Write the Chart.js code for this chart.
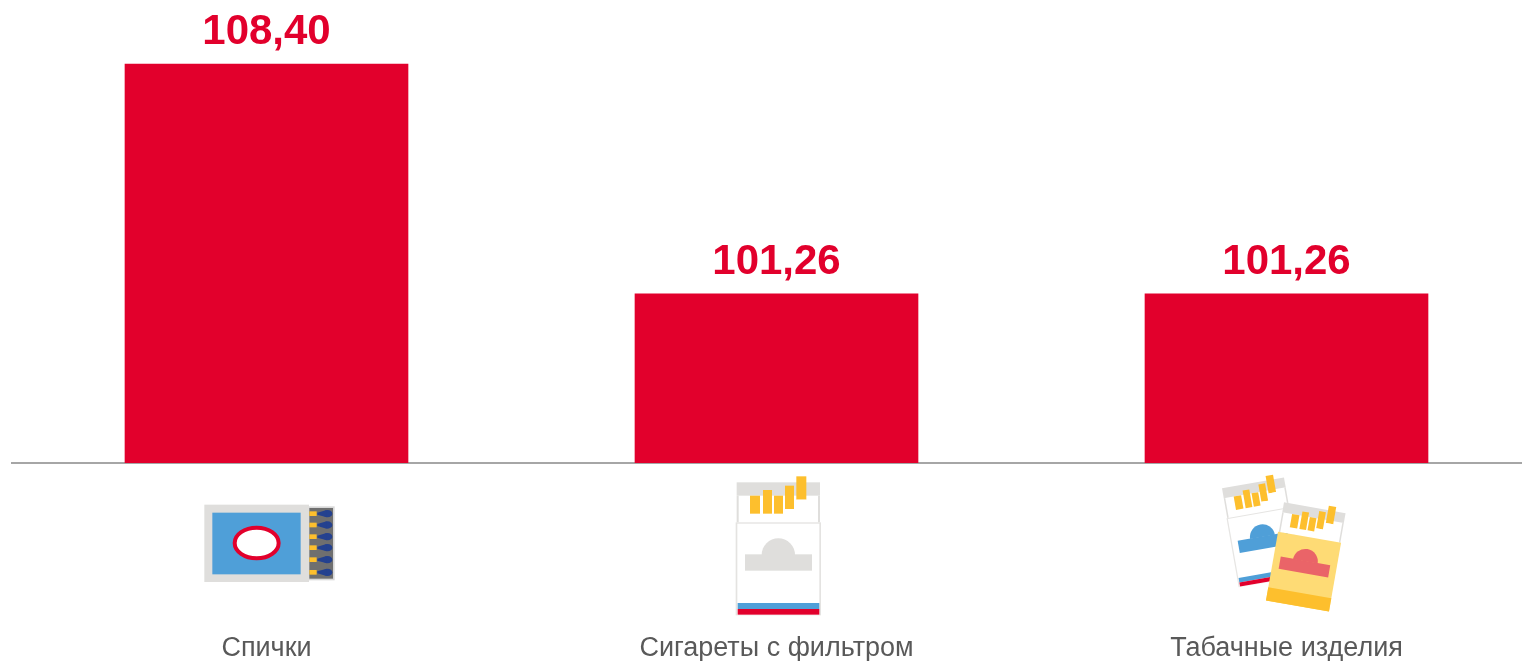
<!DOCTYPE html>
<html lang="ru">
<head>
<meta charset="utf-8">
<title>Индексы цен</title>
<script src="https://cdn.jsdelivr.net/npm/chart.js@4/dist/chart.umd.min.js"></script>
<style>
  html, body { margin: 0; padding: 0; background: #fff; overflow: hidden; }
  #chart { display: block; }
</style>
</head>
<body>
<!-- the third band runs past the window edge in the reference, so the canvas is wider than the page -->
<canvas id="chart" width="1542" height="661"></canvas>
<script>
// Data
// ----------------------------------------------
const categories = ['Спички', 'Сигареты с фильтром', 'Табачные изделия'];
const values = [108.40, 101.26, 101.26];
const iconKinds = ['matches', 'pack', 'twoPacks'];

const redColor = '#e2002c';
const grayColor = '#dfdedc';
const yellowColor = '#fdbf2d';
const blueColor = '#4f9fd8';


// Icons, drawn at 3x so the numbers stay whole
// ----------------------------------------------
let rect = (ctx, color, x1, y1, x2, y2) => {
    ctx.fillStyle = color;
    ctx.fillRect(x1, y1, x2 - x1, y2 - y1);
}

let drawMatches = (ctx) => {
    rect(ctx, grayColor, 43, 44, 357, 276);
    rect(ctx, blueColor, 67, 68, 332, 253);
    ctx.beginPath();
    ctx.ellipse(200, 159, 66, 46, 0, 0, Math.PI * 2);
    ctx.fillStyle = '#fff';
    ctx.fill();
    ctx.lineWidth = 12;
    ctx.strokeStyle = redColor;
    ctx.stroke();

    rect(ctx, '#d8d8d8', 357, 49, 434, 271);
    rect(ctx, '#6f6f6f', 358, 54, 429, 266);
    [71, 105, 140, 173, 209, 247].forEach(y => {
        rect(ctx, yellowColor, 358, y - 7, 380, y + 7);
        // head: round end with a short taper towards the stick
        ctx.fillStyle = '#24418f';
        ctx.beginPath();
        ctx.ellipse(413, y, 14, 11, 0, 0, Math.PI * 2);
        ctx.fill();
        ctx.beginPath();
        ctx.moveTo(382, y - 3);
        ctx.lineTo(410, y - 11);
        ctx.lineTo(410, y + 11);
        ctx.lineTo(382, y + 3);
        ctx.closePath();
        ctx.fill();
    });
}

// Pack in its own coordinates: x 47-303, y 34-450
let drawPack = (ctx, style) => {
    rect(ctx, '#fff', 50, 52, 300, 172);
    rect(ctx, grayColor, 50, 52, 300, 92);
    rect(ctx, grayColor, 50, 92, 56, 172);
    rect(ctx, grayColor, 294, 92, 300, 172);

    rect(ctx, yellowColor, 90, 92, 120, 146);
    rect(ctx, yellowColor, 129, 75, 156, 146);
    rect(ctx, yellowColor, 162, 92, 189, 146);
    rect(ctx, yellowColor, 195, 62, 222, 132);
    rect(ctx, '#fff', 195, 132, 222, 140);
    rect(ctx, yellowColor, 229, 34, 259, 104);
    rect(ctx, '#fff', 229, 104, 259, 146);

    rect(ctx, style.outline, 47, 172, 303, 451);
    rect(ctx, style.body, 52, 176, 298, 450);
    if (style.lowBand) {
        rect(ctx, style.lowBand, 47, 397, 303, 451);
    } else {
        rect(ctx, blueColor, 53, 414, 298, 432);
        rect(ctx, redColor, 53, 432, 298, 449);
    }

    rect(ctx, style.emblem, 75, 268, 276, 317);
    ctx.beginPath();
    ctx.arc(175, 270, 50, Math.PI, 0);
    ctx.fillStyle = style.emblem;
    ctx.fill();
}

let drawTwoPacks = (ctx) => {
    ctx.save();
    ctx.translate(36, 70);
    ctx.rotate(-10 * Math.PI / 180);
    ctx.scale(.755, .755);
    ctx.translate(-50, -52);
    drawPack(ctx, { outline: '#e6e5e3', body: '#fff', emblem: blueColor });
    ctx.restore();

    ctx.save();
    ctx.translate(222, 112);
    ctx.rotate(10 * Math.PI / 180);
    ctx.scale(.75, .75);
    ctx.translate(-50, -52);
    drawPack(ctx, { outline: '#fedb75', body: '#fedb75', emblem: '#ea6468', lowBand: yellowColor });
    ctx.restore();
}

// Offset of each icon from its tick and from the axis line
const iconStyles = {
    matches: { dx: -76.5, dy: 27, draw: drawMatches },
    pack: { dx: -56.5, dy: 2, draw: (ctx) => drawPack(ctx, { outline: '#e4e3e1', body: '#fff', emblem: grayColor }) },
    twoPacks: { dx: -76.5, dy: 2, draw: drawTwoPacks }
};

const iconPlugin = {
    id: 'categoryIcons',
    afterDraw(chart) {
        const { ctx, scales: { x, y } } = chart;
        iconKinds.forEach((kind, i) => {
            const icon = iconStyles[kind];
            ctx.save();
            ctx.translate(x.getPixelForTick(i) + icon.dx, y.bottom + icon.dy);
            ctx.scale(1 / 3, 1 / 3);
            icon.draw(ctx);
            ctx.restore();
        });
    }
};

// Values above the bars
const valueLabelPlugin = {
    id: 'valueLabels',
    afterDatasetsDraw(chart) {
        const { ctx } = chart;
        ctx.save();
        ctx.font = 'bold 42px "Liberation Sans", Arial, sans-serif';
        ctx.fillStyle = redColor;
        ctx.textAlign = 'center';
        ctx.textBaseline = 'alphabetic';
        chart.getDatasetMeta(0).data.forEach((bar, i) => {
            ctx.fillText(values[i].toFixed(2).replace('.', ','), bar.x, bar.y - 20);
        });
        ctx.restore();
    }
};


// Bar Chart
// ----------------------------------------------
const barChart = new Chart(
    document.getElementById('chart'), {
        type: 'bar',
        data: {
            labels: categories,
            datasets: [{
                data: values,
                backgroundColor: redColor,
                borderWidth: 0,
                barThickness: 283
            }]
        },
        options: {
            responsive: false,
            animation: false,
            layout: {
                padding: { left: 11.5, right: 0.5, top: 12.5, bottom: 0 }
            },
            plugins: {
                legend: { display: false },
                title: { display: false },
                tooltip: { enabled: false }
            },
            scales: {
                y: {
                    display: false,
                    min: 96,
                    max: 110
                },
                x: {
                    // Keep the bands evenly spread: no extra room for the long last label
                    afterFit: (scale) => {
                        scale.height = 198;
                        scale.paddingLeft = 0;
                        scale.paddingRight = 0;
                    },
                    grid: {
                        drawOnChartArea: false,
                        drawTicks: false
                    },
                    border: {
                        color: '#a6a6a6',
                        width: 2
                    },
                    ticks: {
                        padding: 169,
                        maxRotation: 0,
                        minRotation: 0,
                        color: '#595959',
                        font: { family: '"Liberation Sans", Arial, sans-serif', size: 27 }
                    }
                }
            }
        },
        plugins: [iconPlugin, valueLabelPlugin]
    }
);
</script>
</body>
</html>
